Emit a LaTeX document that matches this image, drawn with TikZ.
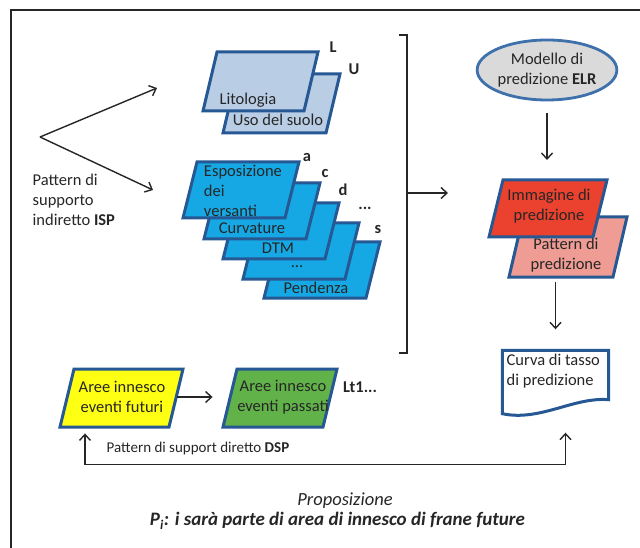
\documentclass[tikz,border=0pt]{standalone}
\usepackage{fontspec}
\setmainfont{Carlito}
\usetikzlibrary{shapes.geometric,arrows.meta,calc}
\definecolor{laybd}{RGB}{38,88,148}
\definecolor{lblue}{RGB}{185,205,229}
\definecolor{cblue}{RGB}{22,168,228}
\definecolor{redf}{RGB}{234,66,46}
\definecolor{pinkf}{RGB}{238,156,148}
\definecolor{yel}{RGB}{255,255,20}
\definecolor{grn}{RGB}{98,178,74}
\definecolor{elgray}{RGB}{218,218,218}
\definecolor{elbd}{RGB}{62,112,172}
\tikzset{
  lay/.style={draw=laybd, line width=3pt, line join=miter},
  txt/.style={shape=rectangle, draw=none, inner sep=1pt, align=center},
  tag/.style={shape=rectangle, draw=none, inner sep=0pt, font=\fontsize{16.5}{20}\selectfont\bfseries},
  doc/.style={draw=laybd, line width=3pt, fill=white},
}
\begin{document}
\begin{tikzpicture}[x=1pt, y=-1pt, line width=1.4pt, black!85,
  >={Straight Barb[length=6pt,width=11pt]},
  font=\fontsize{16.5}{20}\selectfont]
\useasboundingbox (0,0) rectangle (640,548);
\clip (0,0) rectangle (640,548);
%%%%%%%%%%%%%%%%%%%%%%%%%%%%%%%%%%%%%%%%%%% HELP LINES
%\draw[help lines] (0,0) grid[step=20] (640,548);

%%%%%%%%%%%%%%%%%%%%%%%%%%%%%%%%%%%%%%%%%%% frame
\draw[line width=1.5pt] (11,10) rectangle (700,600);

%%%%% layers L, U
\draw[lay, fill=lblue] (237,74) -- ++(103,0) -- ++(-14,59) -- ++(-103,0) -- cycle;
\draw[lay, fill=lblue] (217,52) -- ++(101,0) -- ++(-14,59) -- ++(-101,0) -- cycle;
\node[txt](litot) at (248,100) {Litologia};
\node[txt](usot) at (278,120) {Uso del suolo};
\node[tag](tl) at (333,47) {L};
\node[tag](tu) at (354,69) {U};

%%%%% layers a, c, d, ..., s
\draw[lay, fill=cblue] (278,242) -- ++(102,0) -- ++(-14,56) -- ++(-102,0) -- cycle;
\draw[lay, fill=cblue] (257,223) -- ++(102,0) -- ++(-14,56) -- ++(-102,0) -- cycle;
\draw[lay, fill=cblue] (237,203) -- ++(102,0) -- ++(-14,56) -- ++(-102,0) -- cycle;
\draw[lay, fill=cblue] (218,183) -- ++(102,0) -- ++(-14,56) -- ++(-102,0) -- cycle;
\draw[lay, fill=cblue] (197,162) -- ++(102,0) -- ++(-14,56) -- ++(-102,0) -- cycle;
\node[txt, align=left](lat) at (243,191) {Esposizione\\dei\\versanti};
\node[txt](lct) at (252,228) {Curvature};
\node[txt](ldt) at (278,248) {DTM};
\node[txt](let) at (297,267) {...};
\node[txt](lst) at (316,288) {Pendenza};
\node[tag](ta) at (307,157) {a};
\node[tag](tc) at (325,173) {c};
\node[tag](td) at (343,190) {d};
\node[tag](te) at (365,208) {...};
\node[tag](ts) at (378,229) {s};

%%%%% indirect support
\coordinate (fork) at (40,137);
\coordinate (tolay) at (157,88);
\coordinate (tostack) at (153,190);
\draw[->] (fork) -- (tolay);
\draw[->] (fork) -- (tostack);
\node[txt, align=left, anchor=west](isp) at (31,200) {Pattern di\\supporto\\indiretto \textbf{ISP}};

%%%%% bracket
\draw (399,35) -- (407,35) -- (407,353) -- (399,353);
\coordinate (brk) at (407,193);
\coordinate (brkend) at (448,193);
\draw[->] (brk) -- (brkend);

%%%%% model and prediction
\node[ellipse, draw=elbd, fill=elgray, line width=2.8pt, minimum width=118pt, minimum height=60pt, inner sep=0pt, align=center] (elr) at (547,70) {Modello di\\predizione \textbf{ELR}};
\draw[lay, fill=pinkf] (523,217) -- ++(104,0) -- ++(-14,60) -- ++(-104,0) -- cycle;
\node[txt](patt) at (566,255) {Pattern di\\predizione};
\draw[lay, fill=redf] (503,180) -- ++(104,0) -- ++(-14,57) -- ++(-104,0) -- cycle;
\node[txt](img) at (549,206) {Immagine di\\predizione};
\node[shape=rectangle, draw=none, minimum width=105pt, minimum height=62pt] (curve) at (555.5,382) {};
\draw[doc] (curve.north west) -- (curve.north east) -- ($(curve.south east)+(0,-14)$)
  .. controls ($(curve.south east)+(-35,-17)$) and ($(curve.south west)+(38,8)$) .. (curve.south west) -- cycle;
\node[txt, align=left, anchor=north west](curvet) at (505,352) {Curva di tasso\\di predizione};

%%%%% direct support
\draw[lay, fill=yel] (74,369) -- ++(109,0) -- ++(-14,58) -- ++(-109,0) -- cycle;
\node[txt](fut) at (122,397) {Aree innesco\\eventi futuri};
\draw[lay, fill=grn] (237,369) -- ++(100,0) -- ++(-14,58) -- ++(-100,0) -- cycle;
\node[txt](pas) at (283,397) {Aree innesco\\eventi passati};
\node[tag](tlt) at (360,387) {Lt1...};
\node[txt, font=\fontsize{15}{18}\selectfont](dsp) at (198,448) {Pattern di support diretto \textbf{DSP}};

%%%%% edges
\draw[->, shorten <=12pt, shorten >=20pt] (elr.south) -- (elr.south |- 0,180);
\draw[->, shorten <=5pt, shorten >=21pt] (curve.north |- 0,277) -- (curve.north);
\draw[->, shorten <=10pt, shorten >=23pt] (fut) -- (pas);
\draw[<->] ($(fut.south)+(-37,19)$) -- ++(0,31) -| ($(curve.south)+(10,19)$);

%%%%% proposition
\node[txt, font=\fontsize{18.5}{22}\selectfont](prop) at (345,501) {\textit{Proposizione}};
\node[txt, font=\fontsize{19}{22}\selectfont](pi) at (337.5,521) {\textbf{\textit{P\textsubscript{i}: i sarà parte di area di innesco di frane future}}};
\end{tikzpicture}
\end{document}
